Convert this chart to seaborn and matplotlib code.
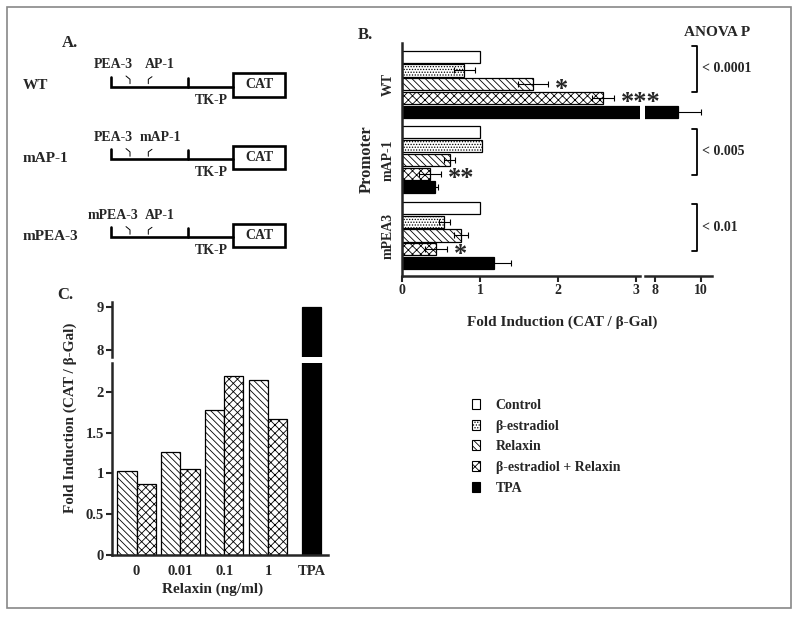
import numpy as np
import pandas as pd
import matplotlib
matplotlib.use('Agg')
import matplotlib.pyplot as plt
from matplotlib.patches import Rectangle, Patch
import seaborn as sns

sns.set_style('ticks')
plt.rcParams['font.family'] = ['Liberation Serif', 'DejaVu Serif']
plt.rcParams['font.weight'] = 'bold'
plt.rcParams['hatch.linewidth'] = 0.6

# %% data
treatments = ['Control', 'β-estradiol', 'Relaxin', 'β-estradiol + Relaxin', 'TPA']
promoters = ['WT', 'mAP-1', 'mPEA3']
fold_wt = [1.0, 0.80, 1.68, 2.58, 9.0]
err_wt = [0, 0.13, 0.19, 0.14, 1.0]
fold_map1 = [1.0, 1.03, 0.61, 0.36, 0.42]
err_map1 = [0, 0, 0.07, 0.14, 0.04]
fold_mpea3 = [1.0, 0.54, 0.76, 0.44, 1.18]
err_mpea3 = [0, 0.07, 0.09, 0.14, 0.22]
anova_p = ['< 0.0001', '< 0.005', '< 0.01']
stars = [('WT', 'Relaxin', '*'), ('WT', 'β-estradiol + Relaxin', '***'),
         ('mAP-1', 'β-estradiol + Relaxin', '**'), ('mPEA3', 'β-estradiol + Relaxin', '*')]

doses = ['0', '0.01', '0.1', '1']
fold_relaxin = [1.03, 1.26, 1.78, 2.14]
fold_combo = [0.87, 1.05, 2.20, 1.67]
fold_tpa = [9.0]

constructs = ['WT', 'mAP-1', 'mPEA-3']
site1_names = ['PEA-3', 'PEA-3', 'mPEA-3']
site2_names = ['AP-1', 'mAP-1', 'AP-1']

colors = ['white', 'white', 'white', 'white', 'black']
hatches = ['', '......', '\\\\\\\\\\', 'xxxx', '']

# %% figure
W, H = 800, 617
fig = plt.figure(figsize=(W / 100, H / 100), dpi=100)


def px_axes(x0, y0, x1, y1, **kw):
    ax = fig.add_axes([x0 / W, 1 - y1 / H, (x1 - x0) / W, (y1 - y0) / H], **kw)
    ax.set_facecolor('none')
    return ax


bg = px_axes(0, 0, W, H, zorder=-1)
bg.set_xlim(0, W)
bg.set_ylim(H, 0)
bg.axis('off')
bg.add_patch(Rectangle((7, 7), 784, 601, fill=False, edgecolor='#888888', lw=1.2))

# %% panel A - promoter constructs
bg.text(62, 43, 'A.', fontsize=12, va='center')
for name, s1, s2, y in zip(constructs, site1_names, site2_names, [86.7, 159.3, 237.3]):
    bg.text(23, y - 1, name, fontsize=11, va='center')
    bg.plot([111, 111, 233], [y - 10, y, y], color='black', lw=1.9, solid_joinstyle='miter')
    bg.plot([188, 188], [y - 9, y], color='black', lw=1.9)
    bg.add_patch(Rectangle((233, y - 13.4), 52, 23.4, facecolor='white', edgecolor='black', lw=1.9))
    bg.text(259, y - 1.7, 'CAT', fontsize=10, ha='center', va='center')
    bg.text(211, y + 13.5, 'TK-P', fontsize=10, ha='center', va='center')
    bg.plot([126, 130, 130], [y - 10.7, y - 7.4, y - 3], color='black', lw=0.7)
    bg.plot([152, 148.3, 148.3], [y - 10, y - 7.4, y - 3], color='black', lw=0.7)
    bg.text(113, y - 21.7, s1, fontsize=10, ha='center', va='center')
    bg.text(160, y - 21.7, s2, fontsize=10, ha='center', va='center')

# %% panel B - horizontal bars with broken x axis
df_b = pd.DataFrame({
    'promoter': np.repeat(promoters, len(treatments)),
    'treatment': treatments * len(promoters),
    'fold': fold_wt + fold_map1 + fold_mpea3,
    'err': err_wt + err_map1 + err_mpea3,
})

ax_bl = px_axes(402, 43, 640, 276)
ax_br = px_axes(645, 43, 712, 276)
for ax in (ax_bl, ax_br):
    sns.barplot(data=df_b, x='fold', y='promoter', hue='treatment', orient='h',
                order=promoters, hue_order=treatments, palette=colors, saturation=1,
                width=0.909, gap=0.12, edgecolor='black', linewidth=0.9,
                errorbar=None, legend=False, ax=ax)
    for cont, h in zip(ax.containers, hatches):
        for bar in cont:
            bar.set_hatch(h)
    for cont, t in zip(ax.containers, treatments):
        sub = df_b[df_b['treatment'] == t].set_index('promoter').loc[promoters]
        ys = [b.get_y() + b.get_height() / 2 for b in cont]
        keep = sub['err'].values > 0
        ax.errorbar(sub['fold'].values[keep], np.array(ys)[keep], xerr=sub['err'].values[keep],
                    fmt='none', ecolor='black', elinewidth=0.8, capsize=2.5, capthick=0.8)
    ax.set_ylim(2.536, -0.545)
    ax.set_xlabel('')
    ax.set_ylabel('')
    for s in ['top', 'right']:
        ax.spines[s].set_visible(False)
    for s in ['left', 'bottom']:
        ax.spines[s].set_linewidth(1.8)
    ax.tick_params(axis='x', direction='out', length=4, width=1.5, pad=2, labelsize=10)

ax_bl.set_xlim(0, 3.05)
ax_bl.set_xticks([0, 1, 2, 3])
ax_bl.tick_params(axis='y', length=0, pad=5, labelsize=10)
for lab in ax_bl.get_yticklabels():
    lab.set_rotation(90)
    lab.set_va('center')
ax_bl.set_ylabel('Promoter', fontsize=12, fontweight='bold', labelpad=5)

ax_br.set_xlim(7.57, 10.48)
ax_br.set_xticks([8, 10])
ax_br.spines['left'].set_visible(False)
ax_br.tick_params(axis='y', left=False, labelleft=False)

# significance stars
for prom, treat, txt in stars:
    row = df_b[(df_b['promoter'] == prom) & (df_b['treatment'] == treat)].iloc[0]
    bar = ax_bl.containers[treatments.index(treat)][promoters.index(prom)]
    yc = bar.get_y() + bar.get_height() / 2
    ax_bl.annotate(txt, xy=(row['fold'] + row['err'], yc), xytext=(5, -3.5),
                   textcoords='offset points', ha='left', va='center', fontsize=19,
                   annotation_clip=False, zorder=5)

# ANOVA brackets
for p, (top, bot) in zip(anova_p, [(-0.505, 0.1), (0.587, 1.2), (1.58, 2.2)]):
    ax_br.plot([9.62, 9.83, 9.83, 9.62], [top, top, bot, bot], color='black', lw=1.3, clip_on=False)
    ax_br.text(10.06, (top + bot) / 2, p, fontsize=10, ha='left', va='center', clip_on=False)

fig.text(717 / W, 1 - 33 / H, 'ANOVA P', fontsize=11, ha='center', va='center')
fig.text(358 / W, 1 - 35 / H, 'B.', fontsize=12, va='center')
fig.text(562 / W, 1 - 322 / H, 'Fold Induction (CAT / β-Gal)', fontsize=11, ha='center', va='center')

# %% panel C - relaxin dose response with broken y axis
df_c = pd.DataFrame({
    'dose': doses * 2,
    'treatment': ['Relaxin'] * len(doses) + ['β-estradiol + Relaxin'] * len(doses),
    'fold': fold_relaxin + fold_combo,
})
df_tpa = pd.DataFrame({'dose': ['TPA'], 'fold': fold_tpa})
order = doses + ['TPA']

ax_lo = px_axes(112, 363.3, 328, 555)
ax_hi = px_axes(112, 301.7, 328, 356.7)
for ax in (ax_lo, ax_hi):
    sns.barplot(data=df_c, x='dose', y='fold', hue='treatment', order=order,
                hue_order=['Relaxin', 'β-estradiol + Relaxin'], palette=['white', 'white'],
                saturation=1, width=0.88, edgecolor='black', linewidth=0.9,
                errorbar=None, legend=False, ax=ax)
    for cont, h in zip(ax.containers, [hatches[2], hatches[3]]):
        for bar in cont:
            bar.set_hatch(h)
    sns.barplot(data=df_tpa, x='dose', y='fold', order=order, color='black', saturation=1,
                width=0.44, edgecolor='black', linewidth=0.9, errorbar=None, ax=ax)
    ax.set_xlim(-0.56, 4.37)
    ax.set_xlabel('')
    ax.set_ylabel('')
    for s in ['top', 'right']:
        ax.spines[s].set_visible(False)
    for s in ['left', 'bottom']:
        ax.spines[s].set_linewidth(1.8)
    ax.tick_params(axis='y', direction='out', length=4, width=1.5, pad=2, labelsize=10.5)

ax_lo.set_ylim(0, 2.35)
ax_lo.set_yticks([0, 0.5, 1, 1.5, 2])
ax_lo.set_yticklabels(['0', '0.5', '1', '1.5', '2'])
ax_lo.tick_params(axis='x', length=0, pad=7, labelsize=10.5)

ax_hi.set_ylim(7.84, 9.13)
ax_hi.set_yticks([8, 9])
ax_hi.spines['bottom'].set_visible(False)
ax_hi.tick_params(axis='x', bottom=False, labelbottom=False)

fig.text(57 / W, 1 - 295 / H, 'C.', fontsize=12, va='center')
fig.text(70 / W, 1 - 418 / H, 'Fold Induction (CAT / β-Gal)', fontsize=11,
         rotation=90, ha='center', va='center')
fig.text(213 / W, 1 - 589 / H, 'Relaxin (ng/ml)', fontsize=11, ha='center', va='center')

# %% legend
handles = [Patch(facecolor=c, edgecolor='black', hatch=h, lw=0.8, label=t)
           for c, h, t in zip(colors, hatches, treatments)]
fig.legend(handles=handles, loc='upper left', bbox_to_anchor=(472 / W, 1 - 399 / H),
           frameon=False, fontsize=10, handlelength=0.55, handleheight=0.72,
           handletextpad=1.15, labelspacing=0.55, borderpad=0, borderaxespad=0)

fig.savefig('out.png', dpi=100)
